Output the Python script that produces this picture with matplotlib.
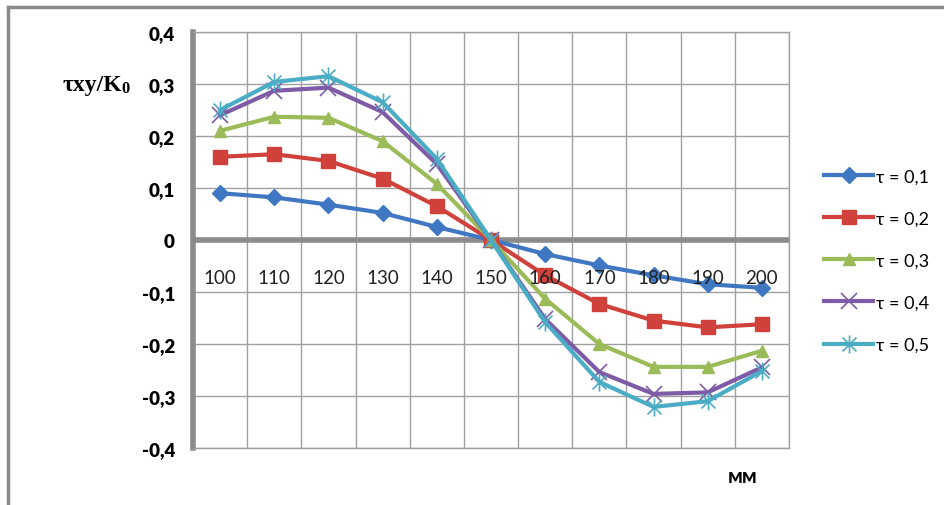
import numpy as np
import matplotlib.pyplot as plt
from matplotlib.lines import Line2D
from matplotlib.path import Path

# data
x_labels = ["100", "110", "120", "130", "140", "150", "160", "170", "180", "190", "200"]
tau_01 = [0.090, 0.082, 0.068, 0.052, 0.025, 0.0, -0.027, -0.049, -0.068, -0.085, -0.092]
tau_02 = [0.160, 0.165, 0.152, 0.118, 0.065, 0.0, -0.068, -0.123, -0.155, -0.168, -0.162]
tau_03 = [0.210, 0.237, 0.235, 0.190, 0.108, 0.0, -0.113, -0.200, -0.244, -0.244, -0.213]
tau_04 = [0.240, 0.287, 0.293, 0.246, 0.146, 0.0, -0.152, -0.254, -0.296, -0.293, -0.245]
tau_05 = [0.250, 0.304, 0.315, 0.265, 0.156, 0.0, -0.158, -0.273, -0.321, -0.310, -0.252]
series_names = ["τ = 0,1", "τ = 0,2", "τ = 0,3", "τ = 0,4", "τ = 0,5"]
y_ticks = [-0.4, -0.3, -0.2, -0.1, 0.0, 0.1, 0.2, 0.3, 0.4]

# excel-style asterisk marker: an x with a vertical stroke
star = Path([(-1, -1), (1, 1), (-1, 1), (1, -1), (0, -1.3), (0, 1.3)],
            [Path.MOVETO, Path.LINETO, Path.MOVETO, Path.LINETO, Path.MOVETO, Path.LINETO])

colors = ["#4077c2", "#d0413b", "#9bbb59", "#7d5ba6", "#4bacc6"]
markers = ["D", "s", "^", "x", star]
msizes = [8, 10, 9, 11, 13]

plt.rcParams['font.family'] = ['Lato', 'DejaVu Sans']

fig = plt.figure(figsize=(9.45, 5.06), dpi=100)
W, H = 945, 506

# outer frame (only left and top visible in reference)
fig.add_artist(Line2D([8 / W, 8 / W], [0, 1 - 8 / H], color="#8a8a8a", lw=2.5,
                      transform=fig.transFigure))
fig.add_artist(Line2D([8 / W, 1], [1 - 8 / H, 1 - 8 / H], color="#8a8a8a", lw=2.5,
                      transform=fig.transFigure))

ax = fig.add_axes([193 / W, 1 - 449 / H, 596 / W, 416 / H])
idx = np.arange(len(x_labels))
all_series = [tau_01, tau_02, tau_03, tau_04, tau_05]

for vals, name, c, m, ms in zip(all_series, series_names, colors, markers, msizes):
    mew = 1.2 if not isinstance(m, str) or m == "x" else 1.0
    ax.plot(idx, vals, color=c, lw=3, marker=m, markersize=ms, markeredgewidth=mew,
            markeredgecolor=c, label=name, zorder=3)

ax.set_xlim(-0.5, len(x_labels) - 0.5)
ax.set_ylim(-0.4, 0.4)
ax.set_yticks(y_ticks)
ax.set_yticklabels([("%.1f" % v).replace(".", ",") if v != 0 else "0" for v in y_ticks],
                   fontsize=13.5, fontweight="heavy")
ax.tick_params(axis="y", length=0, pad=13)
ax.set_xticks(np.arange(len(x_labels) + 1) - 0.5)
ax.set_xticklabels([])
ax.tick_params(axis="x", length=0)
ax.grid(True, color="#a0a0a0", lw=1)
ax.set_axisbelow(True)
ax.axhline(0, color="#8c8c8c", lw=4, zorder=2)

for s in ["top", "right", "bottom"]:
    ax.spines[s].set_color("#a0a0a0")
    ax.spines[s].set_linewidth(1)
ax.spines["left"].set_color("#8c8c8c")
ax.spines["left"].set_linewidth(4)

for i, lab in enumerate(x_labels):
    ax.text(i, -0.072, lab, ha="center", va="center", fontsize=13.5, color="#222222")

fig.text(92 / W, 1 - 86 / H, "τxy/K", fontsize=17, fontweight="bold",
         family=["Liberation Serif", "DejaVu Serif"], ha="center", va="center")
fig.text(126 / W, 1 - 89 / H, "0", fontsize=12, fontweight="bold",
         family=["Liberation Serif", "DejaVu Serif"], ha="center", va="center")
fig.text(743 / W, 1 - 477 / H, "мм", fontsize=15, fontweight="bold", ha="center", va="center")

fig.legend(loc="upper left", bbox_to_anchor=(808 / W, 1 - 153 / H), frameon=False,
           fontsize=13, handlelength=2.7, labelspacing=1.45, handletextpad=0.15)

plt.savefig("out.png", dpi=100)
